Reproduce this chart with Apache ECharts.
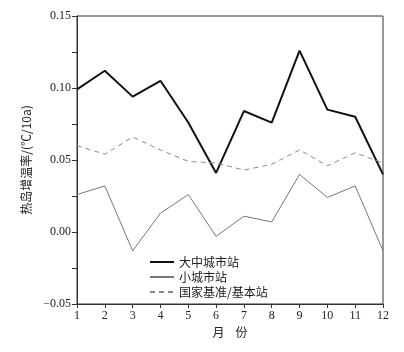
<!DOCTYPE html>
<html>
<head>
<meta charset="utf-8">
<script src="https://cdn.jsdelivr.net/npm/echarts@6/dist/echarts.min.js"></script>
<style>
  html, body { margin: 0; padding: 0; background: #fff; }
  #main { width: 404px; height: 352px; }
</style>
</head>
<body>
<div id="main"></div>
<script>
// 月份
let months = [1, 2, 3, 4, 5, 6, 7, 8, 9, 10, 11, 12]
// 大中城市站
let bigCity = [0.099, 0.112, 0.094, 0.105, 0.076, 0.041, 0.084, 0.076, 0.126, 0.085, 0.080, 0.040]
// 小城市站
let smallCity = [0.026, 0.032, -0.013, 0.013, 0.026, -0.003, 0.011, 0.007, 0.040, 0.024, 0.032, -0.013]
// 国家基准/基本站
let baseStation = [0.060, 0.054, 0.066, 0.057, 0.049, 0.048, 0.043, 0.047, 0.057, 0.046, 0.055, 0.048]

let pairs = arr => arr.map((v, i) => [months[i], v])

let chartDom = document.getElementById('main')
let myChart = echarts.init(chartDom)
let serif = 'Liberation Serif'
let cjk = 'Noto Sans CJK SC'
let axisColor = '#333'

let option = {
  animation: false,
  grid: {
    left: 77,
    right: 21,
    top: 16,
    bottom: 48,
    show: true,
    borderColor: axisColor,
    borderWidth: 1
  },
  legend: {
    orient: 'vertical',
    left: 144,
    top: 251,
    itemWidth: 24,
    itemHeight: 10,
    itemGap: 3,
    itemStyle: { opacity: 0 },
    textStyle: { fontFamily: cjk, fontSize: 12, color: '#222' },
    data: ['大中城市站', '小城市站', '国家基准/基本站']
  },
  xAxis: {
    type: 'value',
    min: 1,
    max: 12,
    interval: 1,
    name: '月    份',
    nameLocation: 'middle',
    nameGap: 22,
    nameTextStyle: { fontFamily: cjk, fontSize: 12, color: '#222' },
    axisLine: { onZero: false, lineStyle: { color: axisColor } },
    axisTick: { length: 4, lineStyle: { color: axisColor } },
    axisLabel: { fontFamily: serif, fontSize: 12, color: '#222', margin: 6 },
    splitLine: { show: false }
  },
  yAxis: {
    type: 'value',
    min: -0.05,
    max: 0.15,
    interval: 0.05,
    name: '热岛增温率/(℃/10a)',
    nameLocation: 'middle',
    nameGap: 42,
    nameTextStyle: { fontFamily: cjk, fontSize: 12, color: '#222' },
    axisLine: { show: true, onZero: false, lineStyle: { color: axisColor } },
    axisTick: { show: true, length: 5, lineStyle: { color: axisColor } },
    minorTick: { show: true, splitNumber: 2, length: 5, lineStyle: { color: axisColor } },
    axisLabel: {
      fontFamily: serif,
      fontSize: 12,
      color: '#222',
      margin: 6,
      formatter: v => (v < 0 ? '−' : '') + Math.abs(v).toFixed(2)
    },
    splitLine: { show: false }
  },
  series: [
    {
      name: '大中城市站',
      type: 'line',
      symbol: 'none',
      lineStyle: { color: '#111', width: 2 },
      itemStyle: { color: '#111' },
      data: pairs(bigCity)
    },
    {
      name: '小城市站',
      type: 'line',
      symbol: 'none',
      lineStyle: { color: '#777', width: 1 },
      itemStyle: { color: '#777' },
      data: pairs(smallCity)
    },
    {
      name: '国家基准/基本站',
      type: 'line',
      symbol: 'none',
      lineStyle: { color: '#888', width: 1, type: [5, 4] },
      itemStyle: { color: '#888' },
      data: pairs(baseStation)
    }
  ]
}

option && myChart.setOption(option)
</script>
</body>
</html>
